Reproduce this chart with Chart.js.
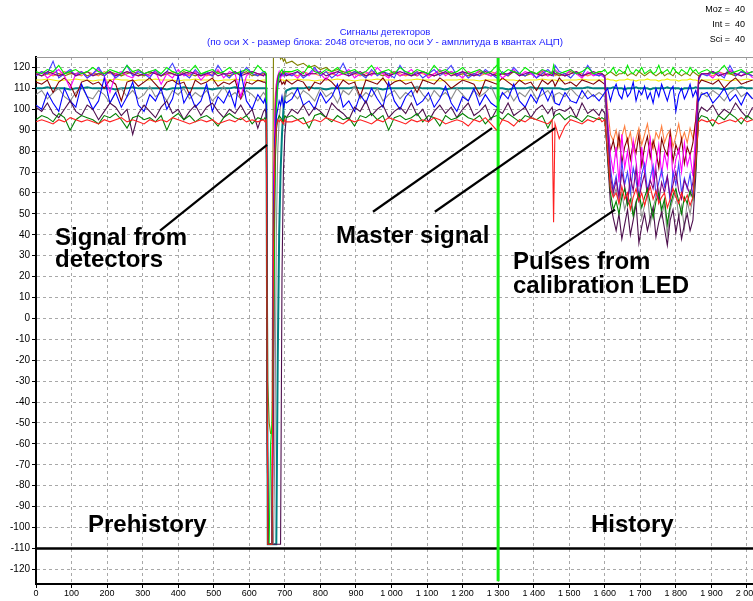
<!DOCTYPE html>
<html lang="ru">
<head>
<meta charset="UTF-8">
<title>Сигналы детекторов</title>
<style>
  body { margin: 0; background: #fff; }
  canvas { display: block; }
</style>
</head>
<body>
<canvas id="signals" width="753" height="601"></canvas>
<script src="https://cdn.jsdelivr.net/npm/chart.js"></script>
<script>
// sample index of every point (denser around the detector pulse, the red spike and the LED pulses)
const samples = [
  0,16,32,48,64,80,96,112,128,144,160,176,192,208,224,240,256,272,288,304,320,336,352,368,384,400,416,432,448,464,480,496,512,528,544,560,576,592,608,624,640,
  644,648,652,656,660,664,668,672,676,680,684,688,692,696,700,704,
  720,736,752,768,784,800,816,832,848,864,880,896,912,928,944,960,976,992,1008,1024,1040,1056,1072,1088,1104,1120,1136,1152,1168,1184,1200,1216,1232,1248,1264,1280,1296,1312,1328,1344,1360,1376,1392,1408,1424,1440,1452,1456,1460,1472,1488,1504,1520,1536,1552,1568,1584,
  1592,1600,1608,1616,1624,1632,1640,1648,1656,1664,1672,1680,1688,1696,1704,1712,1720,1728,1736,1744,1752,1760,1768,1776,1784,1792,1800,1808,1816,1824,1832,1840,1848,1856,1864,1872,
  1888,1904,1920,1936,1952,1968,1984,2000,2016
];

// amplitudes (ADC counts), one array per detector channel
const red = [
  94,95,94,93,95,94,96,95,94,95, 94,93,95,94,95,96,94,95,94,93, 95,94,95,94,96,95,94,93,94,95, 94,95,93,94,95,94,96,94,95,94, 95,
  94,95,-108,-108,-108,-108,30,80,92,95,94,95,94,93,95,94,
  94,95,93,94,95,94,96,95,94,93, 95,94,95,94,93,95,94,96,95,94, 93,95,94,95,94,96,95,93,94,95, 94,92,95,94,96,93,90,95,94,92, 95,94,96,95,94,93,95,46,93,86,92,95, 94,93,95,94,96,
  94,95,80,62,58,60,55,63,57,60, 52,58,62,56,60,54,59,63,57,61, 55,58,60,53,57,62,58,55,60,56, 59,54,58,75,94,95,
  94,95,93,94,95,94,96,94,95
];
const green = [
  95,97,96,94,98,96,90,95,97,96, 95,93,97,96,98,95,91,96,97,95, 96,94,97,90,96,98,95,97,94,96, 97,95,92,96,98,96,95,97,93,96, 95,
  96,95,-108,-108,-108,-108,20,70,90,95,97,96,95,94,97,96,
  97,95,96,91,97,98,96,94,97,95, 96,92,97,96,98,95,97,90,96,97, 95,96,98,94,97,96,92,97,95,96, 98,96,95,97,93,96,97,95,98,96, 94,97,96,95,97,91,95,96,97,98,95,97, 96,94,97,96,95,
  96,95,78,60,52,56,50,58,62,54, 57,49,55,60,53,58,62,55,48,56, 60,52,57,45,54,59,62,56,50,58, 55,61,57,72,95,97,
  96,92,97,95,98,96,93,97,95
];
const plum = [
  101,99,103,98,96,100,104,99,97,102, 100,95,99,103,101,97,100,88,98,102, 99,96,101,104,98,100,95,99,102,97, 101,103,99,96,100,98,102,97,100,91, 99,
  100,98,-108,-108,-108,-108,-108,-108,-108,-108,-108,-108,20,70,88,96,
  100,98,102,97,101,99,96,103,100,98, 95,101,99,104,97,100,102,96,99,101, 98,103,97,100,94,99,102,98,101,96, 100,103,97,99,102,95,100,98,103,97, 99,101,96,100,102,98,101,97,99,100,99,101, 96,103,98,100,97,
  100,98,76,55,48,42,50,38,45,52, 40,47,55,36,44,50,42,48,53,39, 46,51,43,35,47,52,41,49,38,45, 50,42,47,68,98,101,
  99,102,97,100,98,103,99,96,101
];
const blue = [
  102,100,108,103,99,110,104,101,112,106, 100,104,115,103,108,101,106,113,102,99, 107,104,110,100,105,116,103,108,101,104, 112,99,106,103,109,101,118,104,100,107, 103,
  105,102,-108,-108,-108,-108,50,85,96,100,104,102,106,101,104,103,
  105,110,102,104,100,108,103,106,112,101, 104,99,107,103,110,105,101,113,104,100, 106,109,102,104,108,101,105,111,103,99, 106,104,110,102,107,103,101,108,105,112, 104,101,107,103,110,104,109,106,103,102,108,104, 103,109,105,107,104,
  106,108,110,104,109,112,107,105,111,106, 108,113,104,109,107,111,105,108,103,110, 106,112,108,104,109,111,99,107,110,105, 108,112,106,109,104,107,
  108,103,106,110,104,107,102,108,105
];
const grey = [
  107,109,105,108,110,106,104,108,111,106, 105,109,107,103,108,110,106,109,105,107, 111,106,108,104,109,107,110,105,108,106, 109,104,107,111,106,108,105,109,107,104, 108,
  107,106,-108,-108,-108,-108,-108,-60,40,80,95,102,106,104,108,106,
  108,105,109,107,104,110,106,108,103,109, 107,111,105,108,106,110,104,107,109,105, 108,106,111,107,104,109,106,108,105,110, 107,104,109,106,108,111,105,107,109,104, 108,106,110,105,107,109,106,104,107,108,106,110, 107,105,109,106,108,
  107,106,85,65,58,62,55,60,52,57, 63,50,56,59,48,54,60,45,53,58, 62,49,55,40,52,57,61,48,54,43, 56,50,58,75,104,108,
  106,109,107,104,108,110,106,108,105
];
const teal = [
  110,110,110.5,110,110,110,109.5,110,110,110.5, 110,110,110,110,109.5,110,110,110.5,110,110, 110,110,110,109.5,110,110,110.5,110,110,110, 110,109.5,110,110,110,110.5,110,110,110,110, 110,
  110,110,-108,-108,-108,-108,-108,-108,-108,-20,40,70,88,100,106,109,
  110,110,110,110.5,110,110,109.5,110,110,110, 110,110.5,110,110,110,110,109.5,110,110,110, 110,110,110.5,110,110,110,110,109.5,110,110, 110,110,110,110,110.5,110,110,110,109.5,110, 110,110,110.5,110,110,110,110,110,110,110,109.5,110, 110,110,110.5,110,110,
  110,110,110,110,110.5,110,110,110,109.5,110, 110,110,110.5,110,110,110,110,109.5,110,110, 110,110,110,110.5,110,110,110,110,109.5,110, 110,110,110,110.5,110,110,
  110,110,110,109.5,110,110,110.5,110,110
];
const yellow = [
  114,114,114.5,114,113.5,114,114,114.5,114,114, 113.5,114,114,114,114.5,114,114,113.5,114,114, 114,114.5,114,114,114,113.5,114,114,114.5,114, 114,114,113.5,114,114,114.5,114,114,114,113.5, 114,
  114,114,-108,-108,-108,-108,60,105,112,114,114,114.5,114,114,113.5,114,
  114,114.5,114,114,113.5,114,114,114,114.5,114, 114,113.5,114,114,114,114.5,114,114,114,113.5, 114,114,114.5,114,114,114,113.5,114,114,114, 114.5,114,114,113.5,114,114,114,114.5,114,114, 113.5,114,114,114,114.5,114,114,114,114,113.5,114,114, 114,114.5,114,114,114,
  114,114,114.5,114,114,113.5,114,114,114,114.5, 114,114,113.5,114,114,114,114.5,114,114,114, 113.5,114,114,114.5,114,114,114,113.5,114,114, 114,114.5,114,114,113.5,114,
  114,114,114.5,114,113.5,114,114,114.5,114
];
const magenta = [
  116,118,115,117,119,116,110,117,118,115, 117,119,116,108,117,118,116,115,119,117, 116,118,112,117,115,119,116,117,118,114, 117,116,119,115,118,117,106,116,118,117, 116,
  117,116,-108,-108,-108,-108,60,100,112,116,118,115,117,116,118,117,
  117,115,118,116,119,117,114,118,116,117, 119,115,117,118,116,120,117,115,118,116, 117,119,116,118,115,117,119,116,118,117, 115,118,116,119,117,116,118,115,117,119, 116,118,117,115,119,116,117,118,119,117,116,119, 117,115,118,116,117,
  116,115,95,78,70,82,65,88,72,80, 68,85,75,63,82,70,78,86,66,74, 83,69,79,72,87,67,76,81,70,84, 73,78,68,90,114,117,
  117,115,118,116,119,117,116,118,115
];
const maroon = [
  113,112,114,108,113,115,112,106,113,114, 112,113,110,114,112,104,113,114,111,113, 115,112,109,113,114,112,113,107,114,112, 113,115,111,113,112,114,105,113,112,114, 113,
  113,112,-108,-108,-108,-108,40,95,108,112,113,114,112,113,112,114,
  112,114,113,109,113,112,115,113,110,114, 112,113,106,114,113,112,115,111,113,114, 112,113,108,114,113,112,115,113,110,112, 114,113,112,107,114,113,112,115,113,111, 114,112,113,109,114,112,114,113,111,115,112,113, 111,114,113,112,114,
  113,112,92,80,85,78,88,74,82,86, 76,84,79,88,73,82,87,77,85,80, 72,86,81,78,89,75,83,79,86,74, 82,78,84,95,112,114,
  113,112,114,110,113,115,112,113,114
];
const purple = [
  117,116,118,117,116,117,118,116,117,118, 116,117,117,118,116,117,118,117,116,117, 118,117,116,118,117,116,117,118,117,116, 117,118,116,117,117,118,116,117,118,117, 116,
  117,116,-108,-108,-108,-108,-50,80,108,115,117,116,117,118,117,116,
  117,118,116,117,117,118,116,117,118,117, 116,117,118,116,117,117,118,116,117,118, 117,116,117,118,117,116,117,118,116,117, 118,117,116,117,118,117,116,117,117,118, 116,117,118,117,116,117,116,118,117,117,116,117, 118,116,117,118,117,
  117,116,90,68,60,66,58,70,63,55, 68,61,72,57,64,69,59,66,62,71, 56,65,60,68,58,64,70,61,57,66, 63,59,65,80,115,117,
  117,118,116,117,118,117,116,117,118
];
const orange = [
  117,118,117,116,117,118,117,117,116,118, 117,116,118,117,117,116,118,117,116,117, 118,117,116,117,118,117,117,116,118,117, 116,117,118,117,116,117,118,117,117,116, 117,
  117,117,-108,-108,-108,-108,30,90,110,116,117,118,117,116,117,118,
  117,116,118,117,117,116,118,117,116,117, 118,117,116,117,118,117,117,116,118,117, 116,117,118,117,116,117,118,117,117,116, 117,118,117,116,117,118,117,117,116,118, 117,116,118,117,117,116,117,118,116,117,116,117, 118,117,116,117,118,
  117,116,100,88,85,90,82,87,92,84, 89,80,86,91,83,88,93,85,81,89, 86,92,84,88,90,82,87,93,85,89, 84,91,86,95,116,117,
  117,116,118,117,117,116,118,117,116
];
const olive = [
  117,116,117,118,117,116,117,117,118,116, 117,117,116,118,117,116,117,118,117,116, 117,118,116,117,117,116,118,117,116,117, 117,116,118,117,116,117,117,118,116,117, 117,
  117,116,-30,-50,-55,-55,130,128,126,125,127,124,125,123,124,122,
  123,121,122,120,121,119,120,118,119,118, 117,118,117,116,117,117,116,117,118,116, 117,117,116,118,117,116,117,117,118,116, 117,116,117,118,117,116,117,117,116,118, 117,116,117,117,118,116,118,117,117,116,117,118, 117,116,117,117,116,
  117,116,117,118,117,116,117,117,118,116, 117,117,116,118,117,116,117,118,117,116, 117,118,116,117,117,116,118,117,116,117, 117,116,118,117,116,117,
  117,118,116,117,117,116,118,117,116
];
const lime = [
  118,117,119,118,121,117,118,119,117,118, 120,118,117,119,118,117,121,118,119,117, 118,119,117,120,118,117,119,118,121,117, 118,119,117,118,120,117,118,119,117,121, 118,
  118,117,-108,-108,-60,-50,-20,60,100,112,117,118,119,117,118,118,
  118,119,117,121,118,117,119,118,120,117, 118,119,117,118,121,117,118,119,117,120, 118,117,119,118,117,121,118,119,117,118, 120,117,118,119,117,118,121,117,119,118, 117,120,118,117,119,118,117,121,118,117,118,119, 117,118,120,117,118,
  118,119,117,118,120,117,119,118,117,121, 118,117,119,118,120,117,118,119,117,118, 121,117,118,119,117,120,118,117,119,118, 117,120,118,119,117,118,
  119,117,118,121,117,118,119,117,118
];
const blue2 = [
  116,118,117,123,115,117,119,116,118,115, 117,120,116,118,115,117,121,116,118,117, 115,119,116,118,122,116,117,115,119,116, 118,116,121,117,115,118,116,120,117,116, 118,
  117,116,-108,-108,-108,-108,-20,70,100,110,115,117,116,118,116,117,
  116,118,115,117,120,116,118,115,117,122, 116,118,117,115,119,116,118,117,115,121, 117,116,118,115,117,119,116,118,121,116, 118,115,117,116,119,117,115,118,116,120, 117,116,118,115,117,119,117,116,121,118,117,115, 118,116,121,117,116,
  117,115,92,72,62,68,58,75,64,70, 60,72,66,57,69,74,61,67,73,59, 65,71,63,68,56,70,64,74,60,67, 62,69,58,78,114,117,
  116,118,117,115,121,116,118,117,116
];

// channel colours, first entry drawn on top
const channels = [
  ['#ff2020', red], ['#008000', green], ['#4d0f4d', plum], ['#0000ff', blue],
  ['#00ee00', lime], ['#800080', purple], ['#4040ff', blue2], ['#ff00ff', magenta],
  ['#800000', maroon], ['#8c8c8c', grey], ['#008080', teal], ['#f0f000', yellow],
  ['#808000', olive], ['#ff8040', orange]
];

const masterSample = 1300;     // master signal position
const floorLevel = -110;       // prehistory / history floor line
const xRange = [0, 2017];
const yRange = [-127, 125];

// pointer lines from the captions, in sample / amplitude units
const pointers = [
  [[349, 42], [650, 83]],
  [[948, 51], [1283, 91]],
  [[1122, 51], [1460, 91]],
  [[1446, 31], [1629, 52]]
];

const titleLines = [
  'Сигналы детекторов',
  '(по оси X - размер блока: 2048 отсчетов, по оси У - амплитуда в квантах АЦП)'
];
const counters = ['Moz =  40', 'Int =  40', 'Sci =  40'];

const datasets = [];
pointers.forEach(p => datasets.push({
  data: p.map(([x, y]) => ({x, y})),
  borderColor: '#000', borderWidth: 2.2
}));
datasets.push({
  data: [{x: masterSample, y: yRange[1]}, {x: masterSample, y: -125.7}],
  borderColor: '#11ee11', borderWidth: 3
});
datasets.push({
  data: [{x: xRange[0], y: floorLevel}, {x: xRange[1], y: floorLevel}],
  borderColor: '#000', borderWidth: 2.5
});
channels.forEach(([color, ys]) => datasets.push({
  data: samples.map((x, i) => ({x, y: ys[i]})),
  borderColor: color,
  borderWidth: color === '#008080' ? 2 : 1.1
}));

const captions = {
  id: 'captions',
  afterDraw(chart) {
    const c = chart.ctx, a = chart.chartArea;
    c.save();
    c.strokeStyle = '#999';
    c.lineWidth = 1;
    c.beginPath();
    c.moveTo(a.left, a.top + 0.5);
    c.lineTo(a.right, a.top + 0.5);
    c.stroke();

    c.fillStyle = '#1a1aff';
    c.textAlign = 'center';
    c.font = '9.5px Arial, "Liberation Sans", sans-serif';
    c.fillText(titleLines[0], 385, 35);
    c.font = '9.8px Arial, "Liberation Sans", sans-serif';
    c.fillText(titleLines[1], 385, 45);

    c.fillStyle = '#000';
    c.textAlign = 'right';
    c.font = '9px Arial, "Liberation Sans", sans-serif';
    counters.forEach((t, i) => c.fillText(t, 745, 12 + i * 15));

    c.textAlign = 'left';
    c.font = 'bold 24px Arial, "Liberation Sans", sans-serif';
    c.fillText('Signal from', 55, 245);
    c.fillText('detectors', 55, 267);
    c.fillText('Master signal', 336, 243);
    c.fillText('Pulses from', 513, 269);
    c.fillText('calibration LED', 513, 293);
    c.fillText('Prehistory', 88, 532);
    c.fillText('History', 591, 532);
    c.restore();
  }
};

new Chart(document.getElementById('signals'), {
  type: 'line',
  data: { datasets },
  plugins: [captions],
  options: {
    responsive: false,
    animation: false,
    devicePixelRatio: 1,
    layout: { padding: { top: 57, left: 0, right: 0, bottom: 0 } },
    elements: { point: { radius: 0 }, line: { tension: 0 } },
    plugins: { legend: { display: false }, tooltip: { enabled: false } },
    scales: {
      x: {
        type: 'linear',
        min: xRange[0], max: xRange[1],
        afterFit: s => { s.height = 17; s.paddingLeft = 0; s.paddingRight = 0; },
        grid: { color: '#a8a8a8', tickColor: '#000', tickLength: 4 },
        border: { color: '#000', width: 2, dash: [3, 3] },
        ticks: {
          stepSize: 100, includeBounds: false, maxRotation: 0, autoSkip: false,
          padding: 0, color: '#000',
          font: { family: 'Arial, "Liberation Sans", sans-serif', size: 9 },
          callback: v => String(v).replace(/\B(?=(\d{3})+(?!\d))/g, ' ')
        }
      },
      y: {
        min: yRange[0], max: yRange[1],
        afterFit: s => { s.width = 36; s.paddingTop = 0; s.paddingBottom = 0; },
        grid: { color: '#a8a8a8', tickColor: '#000', tickLength: 4 },
        border: { color: '#000', width: 2, dash: [3, 3] },
        ticks: {
          stepSize: 10, includeBounds: false, padding: 2, color: '#000',
          font: { family: 'Arial, "Liberation Sans", sans-serif', size: 10 }
        }
      }
    }
  }
});
</script>
</body>
</html>
